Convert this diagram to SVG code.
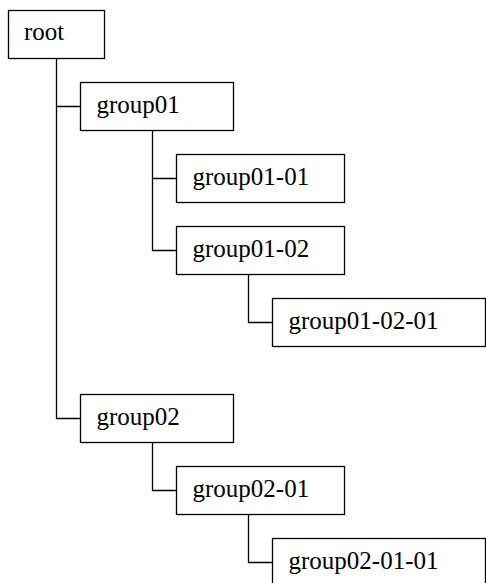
<svg xmlns="http://www.w3.org/2000/svg" width="486" height="583" viewBox="0 0 486 583" font-family="Liberation Serif, Times New Roman, serif">
<style>
rect{fill:#fff;stroke:#000;stroke-width:1.3}
text{font-family:'Liberation Serif',serif;font-size:25px;fill:#000}
#connectors path{fill:none;stroke:#000;stroke-width:1.3}
</style>
<rect x="0" y="0" width="486" height="583" style="stroke:none"/>
<g id="connectors">
<path d="M56.5 58.5V418.5H80.5M56.5 106.5H80.5"/>
<path d="M152.5 130.5V250.5H176.5M152.5 178.5H176.5"/>
<path d="M248.5 274.5V322.5H272.5"/>
<path d="M152.5 442.5V490.5H176.5"/>
<path d="M248.5 514.5V562.5H272.5"/>
</g>
<g id="root"><rect x="8.5" y="10.5" width="96" height="48"/><text x="24" y="39.5">root</text></g>
<g id="group01"><rect x="80.5" y="82.5" width="153" height="48"/><text x="96.5" y="112.5">group01</text></g>
<g id="group01-01"><rect x="176.5" y="154.5" width="168" height="48"/><text x="192.5" y="184.5">group01-01</text></g>
<g id="group01-02"><rect x="176.5" y="226.5" width="168" height="48"/><text x="192.5" y="256.5">group01-02</text></g>
<g id="group01-02-01"><rect x="272.5" y="298.5" width="213" height="48"/><text x="288.5" y="328.5">group01-02-01</text></g>
<g id="group02"><rect x="80.5" y="394.5" width="153" height="48"/><text x="96.5" y="424.5">group02</text></g>
<g id="group02-01"><rect x="176.5" y="466.5" width="168" height="48"/><text x="192.5" y="496.5">group02-01</text></g>
<g id="group02-01-01"><rect x="272.5" y="538.5" width="213" height="48"/><text x="288.5" y="568.5">group02-01-01</text></g>
</svg>
